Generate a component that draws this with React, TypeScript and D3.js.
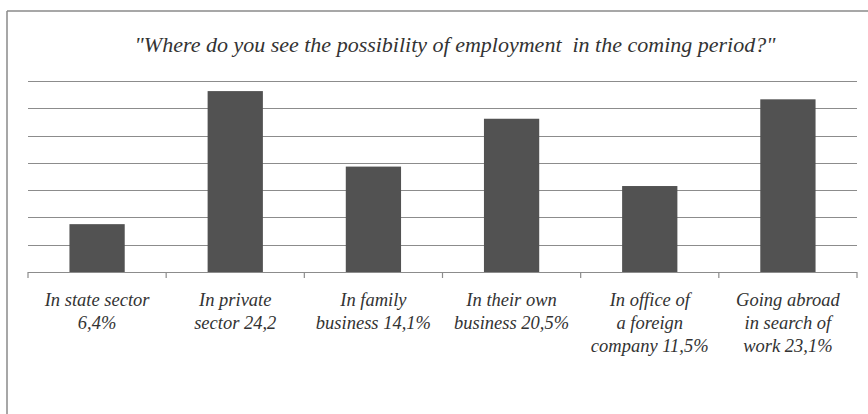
import React from "react";
import * as d3 from "d3";

const categories: string[][] = [
  ["In state sector", "6,4%"],
  ["In private", "sector 24,2"],
  ["In family", "business 14,1%"],
  ["In their own", "business 20,5%"],
  ["In office of", "a foreign", "company 11,5%"],
  ["Going abroad", "in search of", "work 23,1%"],
];
const values: number[] = [6.4, 24.2, 14.1, 20.5, 11.5, 23.1];
const title = "\"Where do you see the possibility of employment  in the coming period?\"";
const yMax = 25.55;
const gridCount = 7;

export default function App() {
  const W = 868, H = 414;
  const left = 28, right = 857, top = 81, bottom = 272;
  const x = d3.scaleBand<number>().domain(d3.range(values.length)).range([left, right]).paddingInner(0.6).paddingOuter(0.3);
  const y = d3.scaleLinear().domain([0, yMax]).range([bottom, top]);
  const grid = d3.range(1, gridCount + 1).map((i) => (i * yMax) / gridCount);
  const step = x.step();
  const font = "Liberation Serif";
  return (
    <svg width={W} height={H} style={{ position: "absolute", left: 0, top: 0 }}>
      <rect x={0} y={0} width={W} height={H} fill="#fff" />
      <line x1={7} x2={W} y1={11} y2={11} stroke="#8a8a8a" strokeWidth={1.5} />
      <line x1={7} x2={7} y1={11} y2={H} stroke="#8a8a8a" strokeWidth={1.5} />
      <text x={455} y={52} textAnchor="middle" fontFamily={font} fontStyle="italic" fontSize={22} fill="#333" style={{ whiteSpace: "pre" }}>
        {title}
      </text>
      {grid.map((g, i) => (
        <line key={i} x1={left} x2={right} y1={Math.round(y(g)) + 0.5} y2={Math.round(y(g)) + 0.5} stroke="#8c8c8c" strokeWidth={1.2} />
      ))}
      {values.map((v, i) => (
        <rect key={i} x={x(i)} y={y(v)} width={x.bandwidth()} height={bottom - y(v)} fill="#525252" />
      ))}
      <line x1={left} x2={right} y1={bottom + 0.5} y2={bottom + 0.5} stroke="#8c8c8c" strokeWidth={1.2} />
      {d3.range(values.length + 1).map((i) => (
        <line key={i} x1={left + i * step} x2={left + i * step} y1={bottom} y2={bottom + 6} stroke="#8c8c8c" strokeWidth={1.2} />
      ))}
      {categories.map((lines, i) => (
        <text key={i} x={left + (i + 0.5) * step} textAnchor="middle" fontFamily={font} fontStyle="italic" fontSize={18.5} fill="#333">
          {lines.map((l, j) => (
            <tspan key={j} x={left + (i + 0.5) * step} y={306 + j * 23}>{l}</tspan>
          ))}
        </text>
      ))}
    </svg>
  );
}
